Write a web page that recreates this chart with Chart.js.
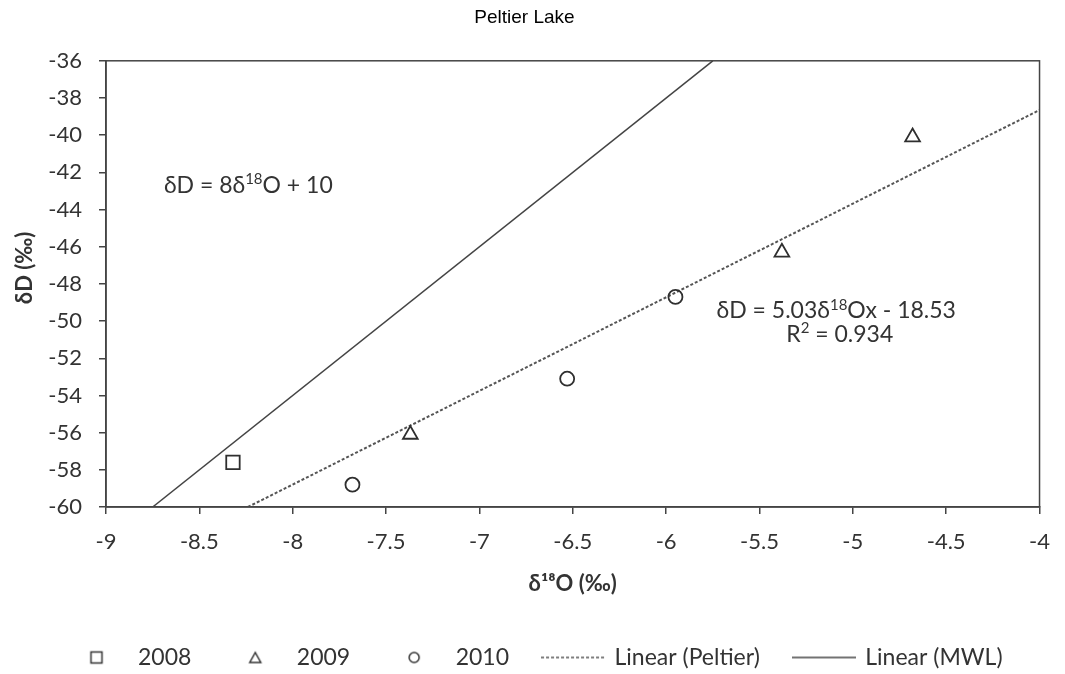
<!DOCTYPE html>
<html>
<head>
<meta charset="utf-8">
<script src="https://cdn.jsdelivr.net/npm/chart.js@4.4.0/dist/chart.umd.min.js"></script>
<style>
  html, body { margin: 0; padding: 0; background: #fff; }
</style>
</head>
<body>
<canvas id="chart" width="1065" height="674"></canvas>
<script>
// values
const seriesNames = ['2008', '2009', '2010', 'Linear (Peltier)', 'Linear (MWL)']
const o18_2008 = [-8.32]
const dD_2008 = [-57.6]
const o18_2009 = [-7.37, -5.38, -4.68]
const dD_2009 = [-56.1, -46.3, -40.1]
const o18_2010 = [-7.68, -6.53, -5.95]
const dD_2010 = [-58.8, -53.1, -48.7]
// trend line end points (where they meet the frame)
const peltierX = [-8.24, -4]
const peltierY = [-60, -38.65]
const mwlX = [-8.75, -5.75]
const mwlY = [-60, -36]
const xRange = [-9, -4]
const yRange = [-60, -36]

const pts = (xs, ys) => xs.map((x, i) => ({ x: x, y: ys[i] }))

const FONT = 'Lato'
const INK = '#333'

// small pictures used as legend keys
function glyph(kind) {
  let c = document.createElement('canvas')
  if (kind === 'dash' || kind === 'solid') {
    c.width = 64; c.height = 4
  } else {
    c.width = 16; c.height = 16
  }
  let g = c.getContext('2d')
  g.strokeStyle = '#333'
  g.lineWidth = 1.5
  if (kind === 'rect') g.strokeRect(2.5, 2.5, 11, 11)
  if (kind === 'tri') {
    g.beginPath(); g.moveTo(8, 3); g.lineTo(13.5, 13); g.lineTo(2.5, 13); g.closePath(); g.stroke()
  }
  if (kind === 'circle') {
    g.beginPath(); g.arc(8, 8, 5, 0, Math.PI * 2); g.stroke()
  }
  if (kind === 'dash') {
    g.strokeStyle = '#555'; g.lineWidth = 1.6; g.setLineDash([3, 2])
    g.beginPath(); g.moveTo(0, 2); g.lineTo(64, 2); g.stroke()
  }
  if (kind === 'solid') {
    g.strokeStyle = '#444'; g.lineWidth = 1.4
    g.beginPath(); g.moveTo(0, 2); g.lineTo(64, 2); g.stroke()
  }
  return c
}
const glyphs = [glyph('rect'), glyph('tri'), glyph('circle'), glyph('dash'), glyph('solid')]

// equations written on the plot, placed in data units
const notes = [
  { x: -8.69, y: -42.7, align: 'left', parts: [['δD = 8δ'], ['18', 1], ['O + 10']] },
  { x: -5.73, y: -49.45, align: 'left', parts: [['δD = 5.03δ'], ['18', 1], ['Ox - 18.53']] },
  { x: -5.07, y: -50.7, align: 'center', parts: [['R'], ['2', 1], [' = 0.934']] }
]

const noteText = {
  id: 'noteText',
  afterDatasetsDraw(chart) {
    let c = chart.ctx
    let xs = chart.scales.x, ys = chart.scales.y
    c.save()
    c.fillStyle = INK
    c.textBaseline = 'middle'
    c.textAlign = 'left'
    notes.forEach(n => {
      let w = 0
      n.parts.forEach(p => {
        c.font = p[1] ? '15px ' + FONT : '23px ' + FONT
        w += c.measureText(p[0]).width
      })
      let px = xs.getPixelForValue(n.x)
      let py = ys.getPixelForValue(n.y)
      if (n.align === 'center') px -= w / 2
      n.parts.forEach(p => {
        c.font = p[1] ? '15px ' + FONT : '23px ' + FONT
        c.fillText(p[0], px, p[1] ? py - 6 : py)
        px += c.measureText(p[0]).width
      })
    })
    c.restore()
  }
}

const frame = {
  id: 'frame',
  afterDatasetsDraw(chart) {
    let c = chart.ctx, a = chart.chartArea
    c.save()
    c.strokeStyle = '#444'
    c.lineWidth = 1.5
    c.strokeRect(a.left, a.top, a.right - a.left, a.bottom - a.top)
    c.restore()
  }
}

// nudge the legend row a little right and down, as in the picture
const legendNudge = {
  id: 'legendNudge',
  afterLayout(chart) {
    let l = chart.legend
    l.left += 10; l.right += 10
    l.top += 5; l.bottom += 5
  }
}

const marker = { backgroundColor: 'rgba(0,0,0,0)', borderColor: '#2f2f2f', borderWidth: 1.8, showLine: false }

let ctx = document.getElementById('chart').getContext('2d')
let myChart = new Chart(ctx, {
  type: 'scatter',
  data: {
    datasets: [
      Object.assign({ label: seriesNames[0], data: pts(o18_2008, dD_2008), pointStyle: 'rect', pointRadius: 9.5, pointHoverRadius: 9.5 }, marker),
      Object.assign({ label: seriesNames[1], data: pts(o18_2009, dD_2009), pointStyle: 'triangle', pointRadius: 8.5, pointHoverRadius: 8.5 }, marker),
      Object.assign({ label: seriesNames[2], data: pts(o18_2010, dD_2010), pointStyle: 'circle', pointRadius: 7, pointHoverRadius: 7 }, marker),
      { label: seriesNames[3], data: pts(peltierX, peltierY), showLine: true, borderColor: '#555', borderWidth: 2, borderDash: [3, 2], pointRadius: 0 },
      { label: seriesNames[4], data: pts(mwlX, mwlY), showLine: true, borderColor: '#444', borderWidth: 1.5, pointRadius: 0 }
    ]
  },
  options: {
    responsive: false,
    animation: false,
    layout: { padding: { left: 0, right: 16, top: 0, bottom: 0 } },
    plugins: {
      tooltip: { enabled: false },
      title: {
        display: true,
        text: 'Peltier Lake',
        color: '#000',
        font: { family: 'Liberation Sans', size: 19, weight: 'normal' },
        padding: { top: 6, bottom: 32 }
      },
      legend: {
        position: 'bottom',
        labels: {
          usePointStyle: true,
          pointStyleWidth: 60,
          padding: 34,
          color: INK,
          font: { family: FONT, size: 23 },
          generateLabels: chart => chart.data.datasets.map((ds, i) => ({
            text: ds.label,
            pointStyle: glyphs[i],
            datasetIndex: i,
            hidden: false,
            lineWidth: 0,
            fontColor: INK
          }))
        }
      }
    },
    scales: {
      x: {
        type: 'linear',
        min: xRange[0],
        max: xRange[1],
        afterFit: s => { s.height = 100 },
        ticks: {
          stepSize: 0.5,
          color: INK,
          padding: 15,
          font: { family: FONT, size: 22 },
          callback: v => String(Math.round(v * 10) / 10)
        },
        grid: { drawOnChartArea: false, drawTicks: true, tickLength: 7, color: '#444', lineWidth: 1.5 },
        border: { color: '#444', width: 1.5 },
        title: {
          display: true,
          text: 'δ¹⁸O (‰)',
          color: INK,
          font: { family: FONT, size: 22, weight: 'bold' },
          padding: { top: 0, bottom: 10 }
        }
      },
      y: {
        type: 'linear',
        min: yRange[0],
        max: yRange[1],
        afterFit: s => { s.width = 106 },
        ticks: {
          stepSize: 2,
          color: INK,
          padding: 17,
          font: { family: FONT, size: 22 }
        },
        grid: { drawOnChartArea: false, drawTicks: true, tickLength: 7, color: '#444', lineWidth: 1.5 },
        border: { color: '#444', width: 1.5 },
        title: {
          display: true,
          text: '      δD (‰)',
          color: INK,
          font: { family: FONT, size: 22, weight: 'bold' },
          padding: { top: 12, bottom: 0 }
        }
      }
    }
  },
  plugins: [frame, noteText, legendNudge]
})
</script>
</body>
</html>
